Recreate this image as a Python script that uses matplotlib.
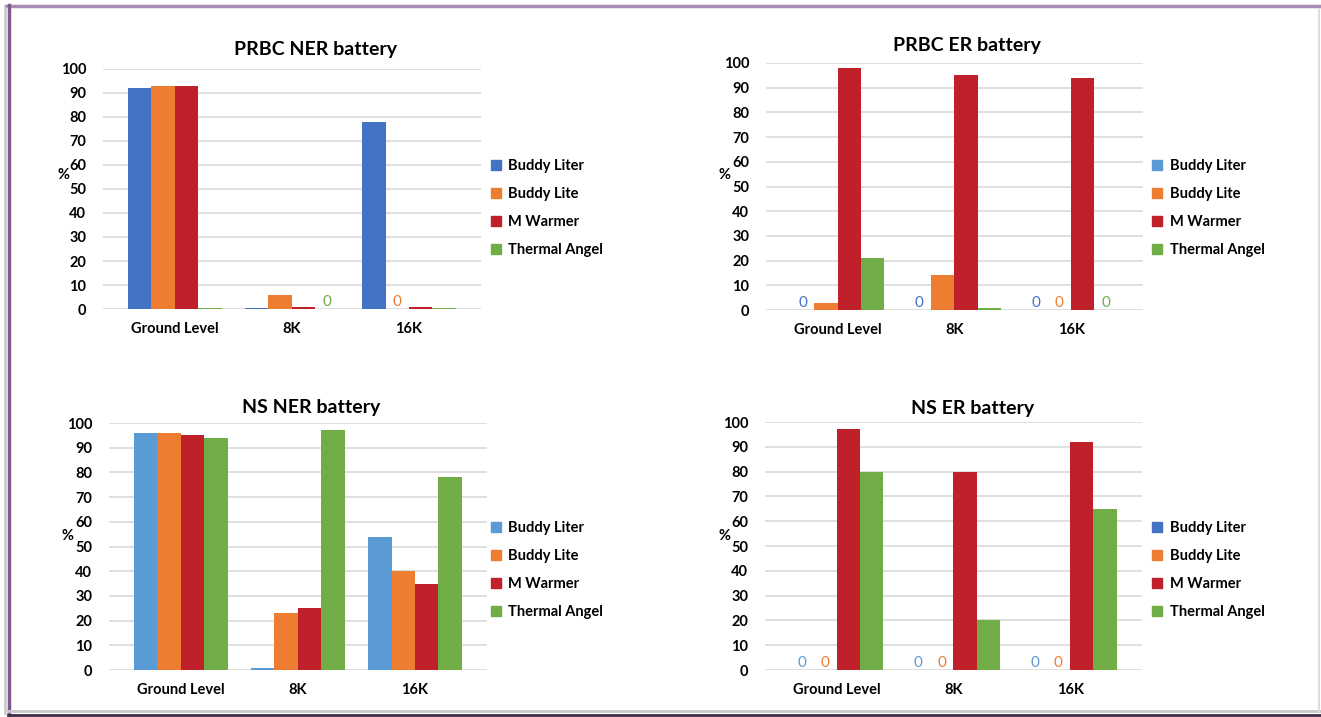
import numpy as np
import matplotlib.pyplot as plt
from matplotlib.lines import Line2D
from matplotlib.patches import Patch

plt.rcParams['font.family'] = ['Lato', 'DejaVu Sans']

categories = ["Ground Level", "8K", "16K"]
series = ["Buddy Liter", "Buddy Lite", "M Warmer", "Thermal Angel"]

# PRBC NER battery
prbc_ner_liter = [92, 0.3, 78]
prbc_ner_lite = [93, 6, 0]
prbc_ner_warmer = [93, 0.8, 1]
prbc_ner_angel = [0.5, 0, 0.5]

# PRBC ER battery
prbc_er_liter = [0, 0, 0]
prbc_er_lite = [3, 14, 0]
prbc_er_warmer = [98, 95, 94]
prbc_er_angel = [21, 1, 0]

# NS NER battery
ns_ner_liter = [96, 1, 54]
ns_ner_lite = [96, 23, 40]
ns_ner_warmer = [95, 25, 35]
ns_ner_angel = [94, 97, 78]

# NS ER battery
ns_er_liter = [0, 0, 0]
ns_er_lite = [0, 0, 0]
ns_er_warmer = [97, 80, 92]
ns_er_angel = [80, 20, 65]

dark_blue = "#4472C4"
light_blue = "#5B9BD5"
orange = "#ED7D31"
red = "#C0202A"
green = "#70AD47"

W, H = 1321, 717

def fx(px):
	return px / W

def fy(py):
	return 1 - py / H

panels = [
	# title, data, bar blue, "0" label blue, axes box (px: left, top, right, bottom), title pos, legend pos, % pos
	("PRBC NER battery", [prbc_ner_liter, prbc_ner_lite, prbc_ner_warmer, prbc_ner_angel],
	 dark_blue, dark_blue, (103, 69, 481, 309), (315, 49), (491, 208), (63, 175)),
	("PRBC ER battery", [prbc_er_liter, prbc_er_lite, prbc_er_warmer, prbc_er_angel],
	 light_blue, dark_blue, (766, 63, 1143, 310), (967, 46), (1152, 208), (724, 175)),
	("NS NER battery", [ns_ner_liter, ns_ner_lite, ns_ner_warmer, ns_ner_angel],
	 light_blue, light_blue, (109, 423, 487, 670), (311, 407), (491, 570), (68, 536)),
	("NS ER battery", [ns_er_liter, ns_er_lite, ns_er_warmer, ns_er_angel],
	 dark_blue, light_blue, (765, 422, 1142, 670), (973, 408), (1152, 570), (724, 536)),
]

fig = plt.figure(figsize=(W / 100, H / 100), dpi=100)
fig.patch.set_facecolor("white")

bw = 0.2
x = np.arange(len(categories))
for title, data, blue, zblue, box, tpos, lpos, ppos in panels:
	l, t, r, b = box
	ax = fig.add_axes([fx(l), fy(b), fx(r - l), fy(t) - fy(b)])
	colors = [blue, orange, red, green]
	zcolors = [zblue, orange, red, green]
	for i, (vals, c, zc) in enumerate(zip(data, colors, zcolors)):
		xs = x + (i - 1.5) * bw
		ax.bar(xs, vals, bw, color=c, zorder=3)
		for xx, v in zip(xs, vals):
			if v == 0:
				ax.text(xx, 1.3, "0", color=zc, fontsize=11, ha="center", va="baseline", zorder=4)
	ax.set_ylim(0, 100)
	ax.set_xlim(-0.614, 2.616)
	ax.set_yticks(range(0, 101, 10))
	ax.set_xticks(x)
	ax.set_xticklabels(categories)
	ax.tick_params(length=0, labelsize=10.5, pad=9)
	ax.tick_params(axis="y", pad=12)
	for lab in ax.get_xticklabels() + ax.get_yticklabels():
		lab.set_fontweight("bold")
	ax.grid(axis="y", color="#D9D9D9", lw=1.2, zorder=0)
	for s in ax.spines.values():
		s.set_visible(False)
	ax.set_facecolor("none")
	fig.text(fx(tpos[0]), fy(tpos[1]), title, ha="center", va="center", fontsize=14, fontweight="bold")
	fig.text(fx(ppos[0]), fy(ppos[1]), "%", ha="center", va="center", fontsize=10.5, fontweight="bold")
	handles = [Patch(color=c, label=s) for c, s in zip(colors, series)]
	fig.legend(handles=handles, loc="center left", bbox_to_anchor=(fx(lpos[0]), fy(lpos[1])),
		frameon=False, handlelength=0.7, handleheight=0.7, handletextpad=0.5,
		labelspacing=0.95, borderpad=0, borderaxespad=0,
		prop={"size": 10.5, "weight": "bold"})

# frame around the picture
fig.add_artist(Line2D([fx(6), fx(W)], [fy(5.5), fy(5.5)], color="#A98BB8", lw=2.5))
fig.add_artist(Line2D([fx(8.5), fx(8.5)], [fy(5), fy(713)], color="#7E5A8E", lw=2.5))
fig.add_artist(Line2D([fx(5), fx(5)], [fy(8), fy(713)], color="#CCCCCC", lw=2))
fig.add_artist(Line2D([fx(8), fx(W)], [fy(711), fy(711)], color="#C8C8C8", lw=2))
fig.add_artist(Line2D([fx(8), fx(W)], [fy(715), fy(715)], color="#3D2B45", lw=2))
fig.add_artist(Line2D([fx(1319), fx(1319)], [fy(10), fy(711)], color="#DDDDDD", lw=1.5))

fig.savefig("out.png", dpi=100)
